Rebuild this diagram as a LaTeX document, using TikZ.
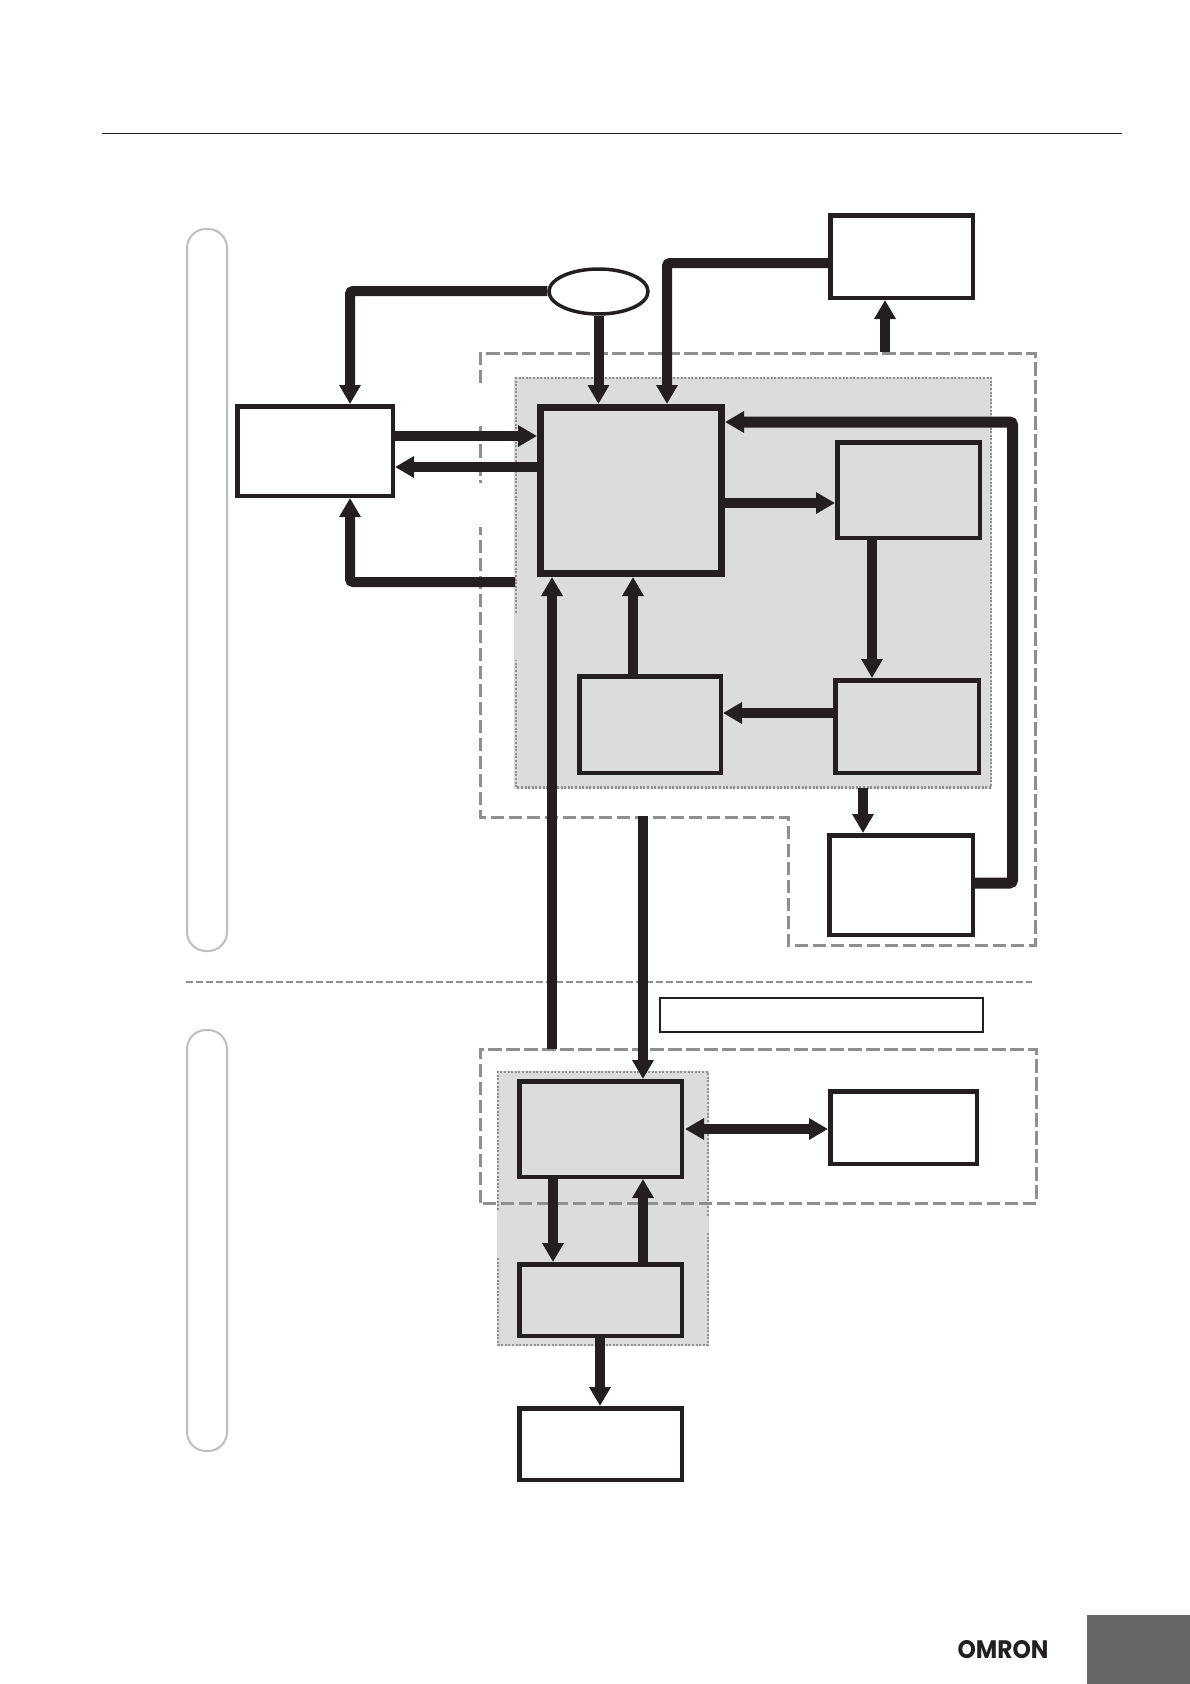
\documentclass[tikz,border=0pt]{standalone}
\usepackage{fontspec}
\usetikzlibrary{arrows.meta,shapes.geometric}
\newfontfamily\logofont{Poppins}
\definecolor{ink}{HTML}{231F20}
\definecolor{area}{HTML}{DCDCDD}
\definecolor{frameg}{HTML}{8F8F8F}
\definecolor{sideg}{HTML}{BEBEBE}
\definecolor{tabg}{HTML}{666666}
\tikzset{
  conn/.style={draw=ink,line width=10pt,rounded corners=3pt,-{Triangle[length=19pt,width=20.5pt]}},
  connb/.style={conn,line width=11pt},
  bothconn/.style={conn,{Triangle[length=19pt,width=20.5pt]}-{Triangle[length=19pt,width=20.5pt]}},
  frameline/.style={draw=frameg,line width=3pt,dash pattern=on 13.5pt off 4.5pt},
  dotline/.style={draw=frameg,line width=2.6pt,dash pattern=on 2pt off 1.6pt},
  sidebar/.style={draw=sideg,line width=2pt,rounded corners=19pt,fill=white},
  boxbase/.style={rectangle,draw=ink,inner sep=0pt},
}
\newcommand{\bx}[7][white]{% fill, name, x1,y1,x2,y2, lw
  \node[boxbase,fill=#1,line width=#7pt,
        minimum width={(#5-#3-#7)*1pt},minimum height={(#6-#4-#7)*1pt}]
        (#2) at ({(#3+#5)/2},{(#4+#6)/2}) {};}
\begin{document}
\begin{tikzpicture}[x=1pt,y=-1pt]
\useasboundingbox (0,0) rectangle (1190,1684);
% rule
\coordinate (ruleL) at (102,133.5); \coordinate (ruleR) at (1122,133.5);
\draw[ink,line width=1.5pt] (ruleL) -- (ruleR);
% side bars
\draw[sidebar] (187,229) rectangle (227,951);
\draw[sidebar] (187,1030) rectangle (227,1451);
% separator
\coordinate (sepL) at (186,982); \coordinate (sepR) at (1032,982);
\draw[draw=frameg,line width=2.7pt,dash pattern=on 7pt off 3pt] (sepL) -- (sepR);
% shaded areas
\fill[area] (514,377) rectangle (992,789);
\draw[dotline] (516,613) -- (516,378) -- (991,378) -- (991,787.5) -- (516,787.5) -- (516,660);
\fill[area] (497,1071) rectangle (709,1346);
\draw[dotline] (498,1210) -- (498,1072) -- (708,1072) -- (708,1216);
\draw[dotline] (708,1233) -- (708,1345) -- (498,1345) -- (498,1257);
% dashed frames
\draw[frameline] (480,383) -- (480,353) -- (1035,353) -- (1035,945) -- (788,945) -- (788,817) -- (480,817) -- (480,527);
\draw[frameline] (480,426) -- (480,483);
\draw[frameline] (480,1203) -- (480,1049) -- (1036,1049) -- (1036,1203) -- (480,1203);
% boxes
\node[boxbase,ellipse,fill=white,line width=3.5pt,minimum width=99pt,minimum height=45pt] (ell) at (598.5,291.5) {};
\bx{tr}{828}{213}{975}{300}{4.5}
\bx{lf}{235}{404}{395}{498}{4.5}
\bx[area]{main}{537}{404}{725}{577}{7}
\bx[area]{dd}{835}{440}{982}{540}{4.5}
\bx[area]{ee}{833}{678}{981}{775}{4.5}
\bx[area]{ff}{577}{674}{723}{775}{4.5}
\bx{gg}{827}{833}{975}{937}{4.5}
\bx{note}{659}{997}{984}{1033}{2.2}
\bx[area]{hh}{517}{1079}{684}{1179}{4.5}
\bx[area]{ii}{517}{1262}{684}{1338}{4.5}
\bx{jj}{828}{1089}{979}{1166}{4.5}
\bx{kk}{517}{1406}{684}{1482}{4.5}
% named free ends and routing points
\coordinate (xl) at (350,291);
\coordinate (xa) at (667,263);
\coordinate (xb) at (350,582);
\coordinate (gap1) at (515,582);
\coordinate (xg) at (1012.5,883);
\coordinate (yg) at (725,422);
\coordinate (xup) at (885,352);
\coordinate (xlong1) at (552,1049);
\coordinate (xlong2) at (643,816);
\coordinate (xde) at (872,539);
\coordinate (xfc) at (633,675);
\coordinate (xeg) at (863,788);
\coordinate (xhi) at (553,1178);
\coordinate (xih) at (643,1263);
\coordinate (ya) at (537,436);
\coordinate (yb) at (537,467);
\coordinate (ycd) at (725,503);
\coordinate (yef) at (833,713);
\coordinate (ydb) at (685,1129);
\coordinate (xik) at (600,1338);
% connectors
\draw[conn] (ell.west |- xl) -- (xl) -- (xl |- lf.north);
\draw[conn] (ell.south) -- (ell.south |- main.north);
\draw[conn] (tr.west |- xa) -- (xa) -- (xa |- main.north);
\draw[conn] (xup) -- (xup |- tr.south);
\draw[conn] (lf.east |- ya) -- (ya);
\draw[conn] (yb) -- (lf.east |- yb);
\draw[conn] (gap1) -- (xb) -- (xb |- lf.south);
\draw[connb] (gg.east |- xg) -- (xg) -- (xg |- yg) -- (yg);
\draw[conn] (ycd) -- (dd.west |- ycd);
\draw[conn] (xde) -- (xde |- ee.north);
\draw[conn] (yef) -- (ff.east |- yef);
\draw[conn] (xfc) -- (xfc |- main.south);
\draw[conn] (xeg) -- (xeg |- gg.north);
\draw[conn] (xlong1) -- (xlong1 |- main.south);
\draw[conn] (xlong2) -- (xlong2 |- hh.north);
\draw[bothconn] (ydb) -- (jj.west |- ydb);
\draw[conn] (xhi) -- (xhi |- ii.north);
\draw[conn] (xih) -- (xih |- hh.south);
\draw[conn] (xik) -- (xik |- kk.north);
% tab and logo
\fill[tabg] (1087,1615) rectangle (1190,1684);
\node[inner sep=0pt,text=ink] (logo) at (1003,1650)
  {\resizebox{91pt}{18pt}{\logofont\bfseries OMRON}};
\end{tikzpicture}
\end{document}
